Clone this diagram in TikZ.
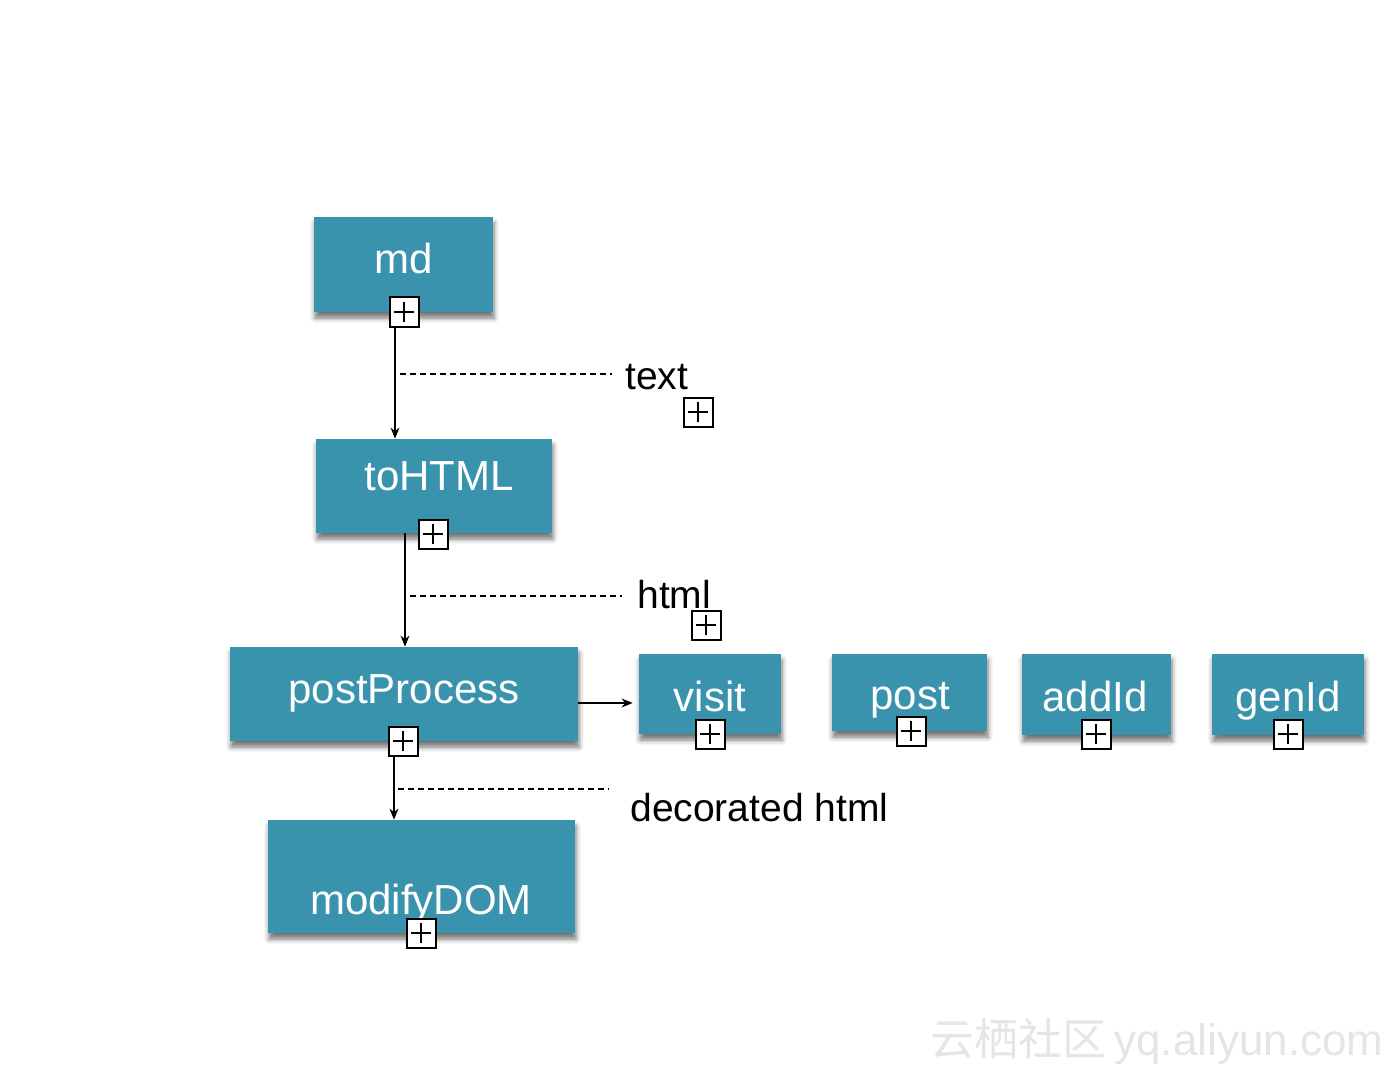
\documentclass[tikz,border=0pt]{standalone}
\usepackage{fontspec}
\setmainfont{Liberation Sans}
\newfontfamily\cjk{Noto Sans CJK SC}
\usetikzlibrary{shadows.blur,calc,arrows.meta}
\definecolor{boxblue}{RGB}{58,147,173}
\begin{document}
\begin{tikzpicture}[x=0.5pt,y=-0.5pt,
 box/.style={fill=boxblue, draw=none, inner sep=0pt,
   blur shadow={shadow xshift=0.5pt,shadow yshift=-3pt,shadow blur radius=2.5pt,shadow opacity=55}},
 btext/.style={text=white, font=\fontsize{21}{21}\selectfont, anchor=base, inner sep=0pt},
 lbl/.style={text=black, font=\fontsize{19.5}{19.5}\selectfont, anchor=base west, inner sep=0pt},
 plusbox/.style={draw=black, line width=1pt, fill=white, minimum size=14.5pt, inner sep=0pt,
   path picture={
     \draw[line width=0.8pt] ([xshift=-5pt]path picture bounding box.center) -- ([xshift=5pt]path picture bounding box.center);
     \draw[line width=0.8pt] ([yshift=-5pt]path picture bounding box.center) -- ([yshift=5pt]path picture bounding box.center);}},
 arr/.style={-{Stealth[length=5.5pt,width=4.5pt]}, line width=0.6pt},
 dsh/.style={dash pattern=on 3pt off 2pt, line width=0.8pt}
]
\useasboundingbox (0,0) rectangle (1400,1069);

% boxes
\node[box, minimum width=89.5pt, minimum height=47.5pt] (md) at (403.5,264.5) {};
\node[box, minimum width=118pt, minimum height=47pt] (toHTML) at (434,486) {};
\node[box, minimum width=174pt, minimum height=47pt] (postProcess) at (404,694) {};
\node[box, minimum width=71pt, minimum height=40pt] (visit) at (710,694) {};
\node[box, minimum width=77.5pt, minimum height=38.5pt] (post) at (909.5,692.5) {};
\node[box, minimum width=74.5pt, minimum height=40.5pt] (addId) at (1096.5,694.5) {};
\node[box, minimum width=76pt, minimum height=40.5pt] (genId) at (1288,694.5) {};
\node[box, minimum width=153.5pt, minimum height=56.5pt] (modifyDOM) at (421.5,876.5) {};

% box texts
\node[btext] (mdT) at (404,274) {md};
\node[btext] (toHTMLT) at (439,490) {toHTML};
\node[btext] (postProcessT) at (404,703) {postProcess};
\node[btext] (visitT) at (710,711) {visit};
\node[btext] (postT) at (910,709) {post};
\node[btext] (addIdT) at (1095,711) {addId};
\node[btext] (genIdT) at (1288,711) {genId};
\node[btext] (modifyDOMT) at (421,914) {modifyDOM};

% labels
\node[lbl] (lText) at (625,389) {text};
\node[lbl] (lHtml) at (637,608) {html};
\node[lbl] (lDec) at (630,821) {decorated html};

% connectors
\coordinate (a1) at (395,328);
\draw[arr] (a1) -- (a1 |- toHTML.north);
\coordinate (a2) at (405,533);
\draw[arr] (a2) -- (a2 |- postProcess.north);
\coordinate (a3) at ($(postProcess.east)+(0,9)$);
\draw[arr] (a3) -- ($(a3 -| visit.west)+(-6,0)$);
\coordinate (a4) at (394,757);
\draw[arr] (a4) -- (a4 |- modifyDOM.north);

% dashed leaders
\coordinate (d1) at (400,374);
\draw[dsh] (d1) -- (612,374);
\coordinate (d2) at (410,596);
\draw[dsh] (d2) -- (622,596);
\coordinate (d3) at (398,789);
\draw[dsh] (d3) -- (609,789);

% plus icons
\node[plusbox] (mdP) at (404,312) {};
\node[plusbox] (textP) at (698,412) {};
\node[plusbox] (toHTMLP) at (433,534) {};
\node[plusbox] (htmlP) at (706,625) {};
\node[plusbox] (ppP) at (403,741) {};
\node[plusbox] (visitP) at (710,734) {};
\node[plusbox] (postP) at (911,731) {};
\node[plusbox] (addIdP) at (1096,734) {};
\node[plusbox] (genIdP) at (1288,734) {};
\node[plusbox] (modP) at (421,933) {};

% watermark
\node[anchor=base west, inner sep=0pt, text=black!10] (wm) at (930,1055)
  {{\cjk\fontsize{22}{22}\selectfont 云栖社区}\hspace{4pt}{\fontsize{22}{22}\selectfont yq.aliyun.com}};
\end{tikzpicture}
\end{document}
